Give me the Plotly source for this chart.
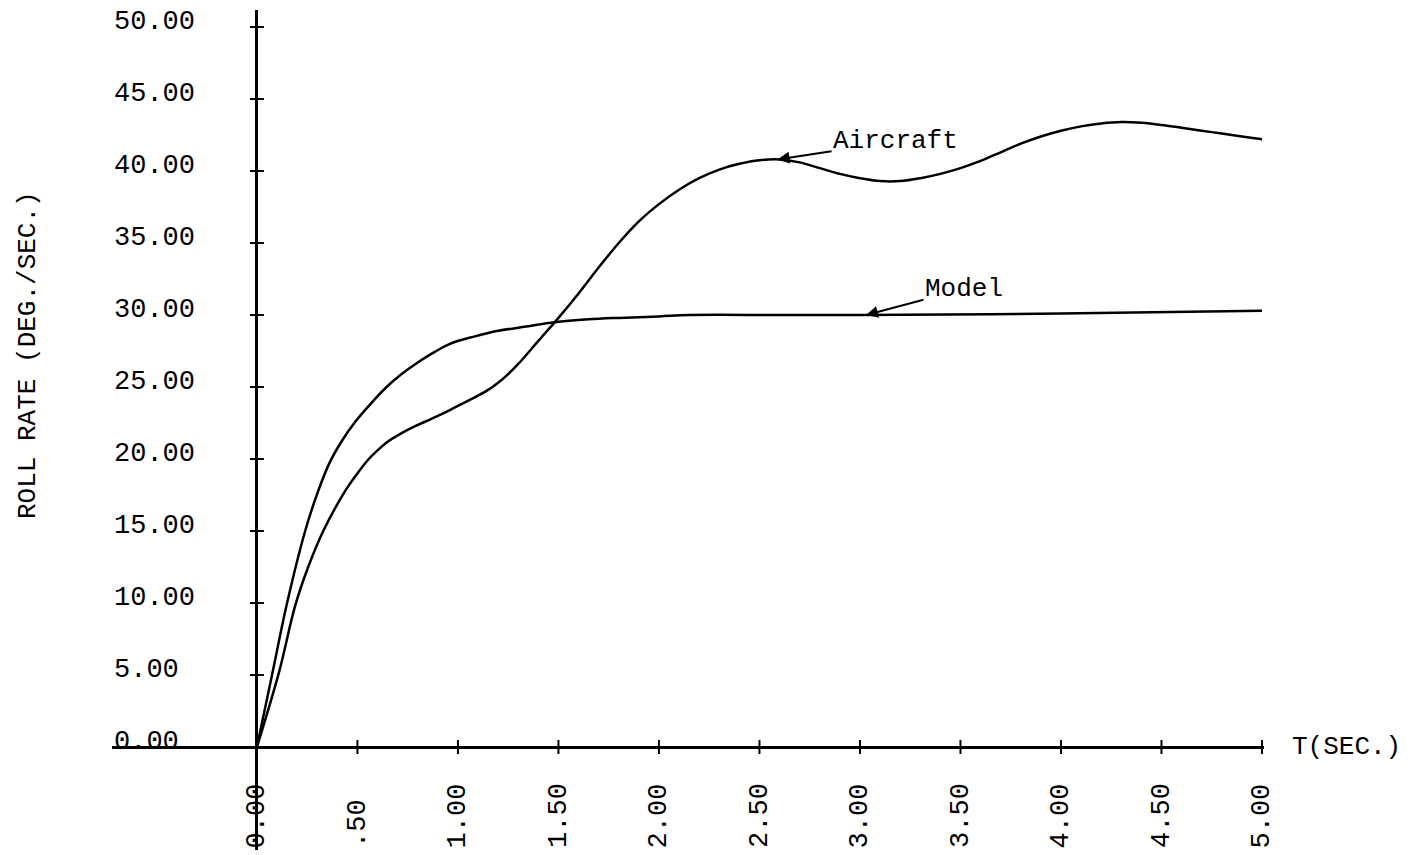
import plotly.graph_objects as go

# ---- data ----
t_model = [0.00, 0.075, 0.15, 0.24, 0.30, 0.36, 0.42, 0.49, 0.57, 0.645, 0.72, 0.80, 0.88, 0.96,
           1.08, 1.20, 1.34, 1.48, 1.65, 1.80, 2.00, 2.15, 2.60, 3.00, 4.00, 5.00]
model = [0.0, 5.0, 10.0, 15.0, 17.6, 19.7, 21.2, 22.6, 23.9, 25.0, 25.9, 26.7, 27.4, 28.0,
         28.5, 28.9, 29.2, 29.5, 29.7, 29.8, 29.9, 30.0, 30.0, 30.0, 30.1, 30.3]

t_aircraft = [0.00, 0.11, 0.19, 0.255, 0.33, 0.44, 0.50, 0.55, 0.60, 0.65, 0.72, 0.79, 0.87,
              0.96, 1.03, 1.10, 1.15, 1.20, 1.25, 1.30, 1.40, 1.50, 1.60, 1.70, 1.80, 1.90,
              2.00, 2.10, 2.20, 2.30, 2.40, 2.50, 2.60, 2.70, 2.80, 2.90, 3.00, 3.10, 3.20,
              3.30, 3.40, 3.50, 3.60, 3.70, 3.80, 3.90, 4.00, 4.10, 4.20, 4.30, 4.40, 4.50,
              4.60, 4.70, 4.80, 4.90, 5.00]
aircraft = [0.0, 5.2, 9.8, 12.5, 15.0, 17.8, 19.0, 19.9, 20.6, 21.2, 21.8, 22.3, 22.8,
            23.4, 23.9, 24.4, 24.8, 25.3, 25.9, 26.6, 28.2, 29.8, 31.5, 33.3, 35.0, 36.5,
            37.7, 38.7, 39.5, 40.1, 40.5, 40.75, 40.8, 40.6, 40.2, 39.8, 39.5, 39.3, 39.3,
            39.5, 39.8, 40.2, 40.7, 41.3, 41.9, 42.4, 42.8, 43.1, 43.3, 43.4, 43.35, 43.2,
            43.0, 42.8, 42.6, 42.4, 42.2]

x_ticks = [0.0, 0.5, 1.0, 1.5, 2.0, 2.5, 3.0, 3.5, 4.0, 4.5, 5.0]
x_tick_labels = ["0.00", ".50", "1.00", "1.50", "2.00", "2.50", "3.00", "3.50", "4.00", "4.50", "5.00"]
y_ticks = [0, 5, 10, 15, 20, 25, 30, 35, 40, 45, 50]
y_tick_labels = ["0.00", "5.00", "10.00", "15.00", "20.00", "25.00", "30.00", "35.00", "40.00", "45.00", "50.00"]

x_title = "T(SEC.)"
y_title = "ROLL RATE (DEG./SEC.)"
label_aircraft = ("Aircraft", 2.59, 40.8)
label_model = ("Model", 3.03, 30.0)

FONT = "Liberation Mono, DejaVu Sans Mono, monospace"
TICKFONT = dict(family=FONT, size=27, color="black")
TEXTFONT = dict(family=FONT, size=26, color="black")

OFF = 8  # default page body margin
W, H = 1411 - OFF, 855 - OFF
L, R, T, B = 104, 147, 2, 5
PW, PH = W - L - R, H - T - B
X_RANGE = [-0.721, 5.01]
Y_RANGE = [-7.15, 51.18]

fig = go.Figure()

fig.add_trace(go.Scatter(x=t_model, y=model, mode="lines",
                         line=dict(color="black", width=2.5, shape="spline", smoothing=1.0),
                         hoverinfo="skip", showlegend=False))
fig.add_trace(go.Scatter(x=t_aircraft, y=aircraft, mode="lines",
                         line=dict(color="black", width=2.5, shape="spline", smoothing=1.0),
                         hoverinfo="skip", showlegend=False))

# crossing tick marks on the axes
fig.add_trace(go.Scatter(x=x_ticks, y=[0] * len(x_ticks), mode="markers",
                         marker=dict(symbol="line-ns", size=10, line=dict(color="black", width=2)),
                         hoverinfo="skip", showlegend=False, cliponaxis=False))
fig.add_trace(go.Scatter(x=[0] * len(y_ticks), y=y_ticks, mode="markers",
                         marker=dict(symbol="line-ew", size=10, line=dict(color="black", width=2)),
                         hoverinfo="skip", showlegend=False, cliponaxis=False))

y0_frac = (0 - Y_RANGE[0]) / (Y_RANGE[1] - Y_RANGE[0])

fig.update_layout(
    width=W, height=H,
    margin=dict(l=L, r=R, t=T, b=B, autoexpand=False),
    paper_bgcolor="white", plot_bgcolor="white",
    showlegend=False,
    xaxis=dict(range=X_RANGE, showgrid=False, showticklabels=False, ticks="",
               showline=True, linecolor="black", linewidth=2.5,
               anchor="free", position=y0_frac,
               zeroline=True, zerolinecolor="black", zerolinewidth=2.5),
    yaxis=dict(range=Y_RANGE, showgrid=False, showticklabels=False, ticks="",
               showline=False, zeroline=False),
)


def px_to_paper_x(px):
    return (px - OFF - L) / PW


def px_to_paper_y(py):
    return (OFF + H - B - py) / PH


annotations = []
# y tick labels, left aligned
for v, lab in zip(y_ticks, y_tick_labels):
    annotations.append(dict(x=0, xref="paper", xanchor="left", y=v, yref="y", yanchor="middle",
                            yshift=5, text=lab, showarrow=False, font=TICKFONT))
# x tick labels, rotated, bottom aligned
for v, lab in zip(x_ticks, x_tick_labels):
    annotations.append(dict(x=v, xref="x", xanchor="center", y=0, yref="paper", yanchor="bottom",
                            text=lab, textangle=-90, showarrow=False, font=TICKFONT))
# axis titles
annotations.append(dict(x=px_to_paper_x(1290), xref="paper", xanchor="left", y=0, yref="y",
                        yanchor="middle", text=x_title, showarrow=False, font=TEXTFONT))
annotations.append(dict(x=px_to_paper_x(28), xref="paper", xanchor="center",
                        y=px_to_paper_y(355), yref="paper", yanchor="middle",
                        text=y_title, textangle=-90, showarrow=False, font=TEXTFONT))
# curve labels with arrows
annotations.append(dict(x=label_aircraft[1], y=label_aircraft[2], xref="x", yref="y",
                        text=label_aircraft[0], showarrow=True, ax=118, ay=-18,
                        arrowhead=2, arrowsize=1.2, arrowwidth=2, arrowcolor="black",
                        font=TEXTFONT))
annotations.append(dict(x=label_model[1], y=label_model[2], xref="x", yref="y",
                        text=label_model[0], showarrow=True, ax=98, ay=-26,
                        arrowhead=2, arrowsize=1.2, arrowwidth=2, arrowcolor="black",
                        font=TEXTFONT))
fig.update_layout(annotations=annotations)

fig.write_html("out.html")
